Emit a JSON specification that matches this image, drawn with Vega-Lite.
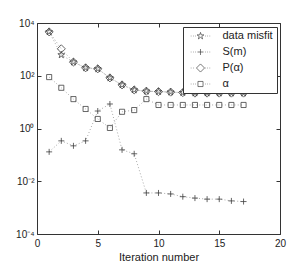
{
  "$schema": "https://vega.github.io/schema/vega-lite/v6.json",
  "autosize": "none",
  "width": 243,
  "height": 211,
  "padding": {"left": 37, "top": 23, "right": 11, "bottom": 32},
  "background": "white",
  "config": {
    "view": {"stroke": null},
    "font": "Liberation Sans",
    "axis": {"grid": false, "domainColor": "#333", "tickColor": "#333", "labelColor": "#222", "titleColor": "#222", "labelFont": "Liberation Sans", "titleFont": "Liberation Sans", "labelFontSize": 10, "titleFontSize": 11, "titleFontWeight": "normal", "tickSize": -4, "domainWidth": 1, "tickWidth": 1}
  },
  "data": {"values": [
    {"iter": 1, "series": "data misfit", "value": 4600},
    {"iter": 2, "series": "data misfit", "value": 620},
    {"iter": 3, "series": "data misfit", "value": 330},
    {"iter": 4, "series": "data misfit", "value": 200},
    {"iter": 5, "series": "data misfit", "value": 183},
    {"iter": 6, "series": "data misfit", "value": 83},
    {"iter": 7, "series": "data misfit", "value": 45},
    {"iter": 8, "series": "data misfit", "value": 29},
    {"iter": 9, "series": "data misfit", "value": 26},
    {"iter": 10, "series": "data misfit", "value": 25},
    {"iter": 11, "series": "data misfit", "value": 24},
    {"iter": 12, "series": "data misfit", "value": 23},
    {"iter": 13, "series": "data misfit", "value": 22},
    {"iter": 14, "series": "data misfit", "value": 22},
    {"iter": 15, "series": "data misfit", "value": 22},
    {"iter": 16, "series": "data misfit", "value": 22},
    {"iter": 17, "series": "data misfit", "value": 22},
    {"iter": 1, "series": "S(m)", "value": 0.13},
    {"iter": 2, "series": "S(m)", "value": 0.34},
    {"iter": 3, "series": "S(m)", "value": 0.22},
    {"iter": 4, "series": "S(m)", "value": 0.34},
    {"iter": 5, "series": "S(m)", "value": 4.6},
    {"iter": 6, "series": "S(m)", "value": 8.5},
    {"iter": 7, "series": "S(m)", "value": 0.155},
    {"iter": 8, "series": "S(m)", "value": 0.11},
    {"iter": 9, "series": "S(m)", "value": 0.0036},
    {"iter": 10, "series": "S(m)", "value": 0.0036},
    {"iter": 11, "series": "S(m)", "value": 0.0033},
    {"iter": 12, "series": "S(m)", "value": 0.0026},
    {"iter": 13, "series": "S(m)", "value": 0.0023},
    {"iter": 14, "series": "S(m)", "value": 0.0021},
    {"iter": 15, "series": "S(m)", "value": 0.0021},
    {"iter": 16, "series": "S(m)", "value": 0.0018},
    {"iter": 17, "series": "S(m)", "value": 0.0017},
    {"iter": 1, "series": "P(α)", "value": 4600},
    {"iter": 2, "series": "P(α)", "value": 1050},
    {"iter": 3, "series": "P(α)", "value": 330},
    {"iter": 4, "series": "P(α)", "value": 200},
    {"iter": 5, "series": "P(α)", "value": 183},
    {"iter": 6, "series": "P(α)", "value": 83},
    {"iter": 7, "series": "P(α)", "value": 45},
    {"iter": 8, "series": "P(α)", "value": 29},
    {"iter": 9, "series": "P(α)", "value": 26},
    {"iter": 10, "series": "P(α)", "value": 25},
    {"iter": 11, "series": "P(α)", "value": 24},
    {"iter": 12, "series": "P(α)", "value": 23},
    {"iter": 13, "series": "P(α)", "value": 22},
    {"iter": 14, "series": "P(α)", "value": 22},
    {"iter": 15, "series": "P(α)", "value": 22},
    {"iter": 16, "series": "P(α)", "value": 22},
    {"iter": 17, "series": "P(α)", "value": 22},
    {"iter": 1, "series": "α", "value": 89},
    {"iter": 2, "series": "α", "value": 35},
    {"iter": 3, "series": "α", "value": 13},
    {"iter": 4, "series": "α", "value": 5.5},
    {"iter": 5, "series": "α", "value": 2.3},
    {"iter": 6, "series": "α", "value": 1.05},
    {"iter": 7, "series": "α", "value": 4.3},
    {"iter": 8, "series": "α", "value": 5.0},
    {"iter": 9, "series": "α", "value": 13},
    {"iter": 10, "series": "α", "value": 7.8},
    {"iter": 11, "series": "α", "value": 7.8},
    {"iter": 12, "series": "α", "value": 7.8},
    {"iter": 13, "series": "α", "value": 7.8},
    {"iter": 14, "series": "α", "value": 7.8},
    {"iter": 15, "series": "α", "value": 7.8},
    {"iter": 16, "series": "α", "value": 7.8},
    {"iter": 17, "series": "α", "value": 7.8}
  ]},
  "resolve": {"axis": {"x": "independent", "y": "independent"}, "scale": {"shape": "independent"}},
  "layer": [
    {
      "mark": {"type": "line", "color": "#a0a0a0", "strokeWidth": 0.9, "strokeDash": [1, 2.2]},
      "encoding": {
        "x": {"field": "iter", "type": "quantitative", "scale": {"domain": [0, 20], "nice": false, "zero": false},
              "axis": {"orient": "bottom", "values": [0, 5, 10, 15, 20], "title": "Iteration number", "labelPadding": 8, "titlePadding": 3, "labelFlush": false}},
        "y": {"field": "value", "type": "quantitative", "scale": {"type": "log", "domain": [0.0001, 10000], "nice": false},
              "axis": {"orient": "left", "values": [0.0001, 0.01, 1, 100, 10000], "title": null, "labelPadding": 7,
                       "labelExpr": "datum.value > 5000 ? '10⁴' : datum.value > 50 ? '10²' : datum.value > 0.5 ? '10⁰' : datum.value > 0.005 ? '10⁻²' : '10⁻⁴'"}},
        "detail": {"field": "series"}
      }
    },
    {
      "mark": {"type": "point", "filled": false, "color": "#404040", "strokeWidth": 0.8, "size": 36, "opacity": 1},
      "encoding": {
        "x": {"field": "iter", "type": "quantitative",
              "axis": {"orient": "top", "values": [0, 5, 10, 15, 20], "labels": false, "title": null}},
        "y": {"field": "value", "type": "quantitative",
              "axis": {"orient": "right", "values": [0.0001, 0.01, 1, 100, 10000], "labels": false, "title": null}},
        "shape": {"field": "series", "type": "nominal", "legend": null,
                  "scale": {"domain": ["data misfit", "S(m)", "P(α)", "α"],
                            "range": [
                              "M0,-1.2L0.269,-0.371L1.141,-0.371L0.436,0.142L0.706,0.971L0,0.458L-0.706,0.971L-0.436,0.142L-1.141,-0.371L-0.269,-0.371Z",
                              "M-1,0L1,0M0,-1L0,1",
                              "M0,-1.35L1.35,0L0,1.35L-1.35,0Z",
                              "M-0.85,-0.85L0.85,-0.85L0.85,0.85L-0.85,0.85Z"
                            ]}}
      }
    },
    {
      "transform": [{"filter": "false"}],
      "mark": {"type": "point", "filled": false, "color": "#404040", "strokeWidth": 0.8, "size": 36, "opacity": 1},
      "encoding": {
        "x": {"field": "iter", "type": "quantitative", "axis": null},
        "y": {"field": "value", "type": "quantitative", "axis": null},
        "shape": {"field": "series", "type": "nominal",
                  "scale": {"domain": ["data misfit", "S(m)", "P(α)", "α"],
                            "range": [
                              "M-0.4,0L-0.2,0M0.35,0L0.55,0M1.1,0L1.3,0M4.35,0L4.55,0M5.1,0L5.3,0M5.85,0L6.05,0M2.83,-1.2L3.099,-0.371L3.971,-0.371L3.266,0.142L3.536,0.971L2.83,0.458L2.124,0.971L2.394,0.142L1.689,-0.371L2.561,-0.371Z",
                              "M-0.4,0L-0.2,0M0.35,0L0.55,0M1.1,0L1.3,0M4.35,0L4.55,0M5.1,0L5.3,0M5.85,0L6.05,0M1.83,0L3.83,0M2.83,-1L2.83,1",
                              "M-0.4,0L-0.2,0M0.35,0L0.55,0M4.35,0L4.55,0M5.1,0L5.3,0M5.85,0L6.05,0M2.83,-1.35L4.18,0L2.83,1.35L1.48,0Z",
                              "M-0.4,0L-0.2,0M0.35,0L0.55,0M1.1,0L1.3,0M4.35,0L4.55,0M5.1,0L5.3,0M5.85,0L6.05,0M1.98,-0.85L3.68,-0.85L3.68,0.85L1.98,0.85Z"
                            ]},
                  "legend": {"title": null, "orient": "none", "legendX": 146, "legendY": 4, "strokeColor": "#333", "fillColor": "white",
                             "padding": 3.5, "rowPadding": 4, "labelFontSize": 11, "labelFont": "Liberation Sans", "labelColor": "#222",
                             "symbolSize": 36, "labelOffset": 25, "symbolStrokeWidth": 0.7, "symbolStrokeColor": "#404040", "symbolFillColor": "transparent", "symbolOpacity": 1}}
      }
    }
  ]
}
